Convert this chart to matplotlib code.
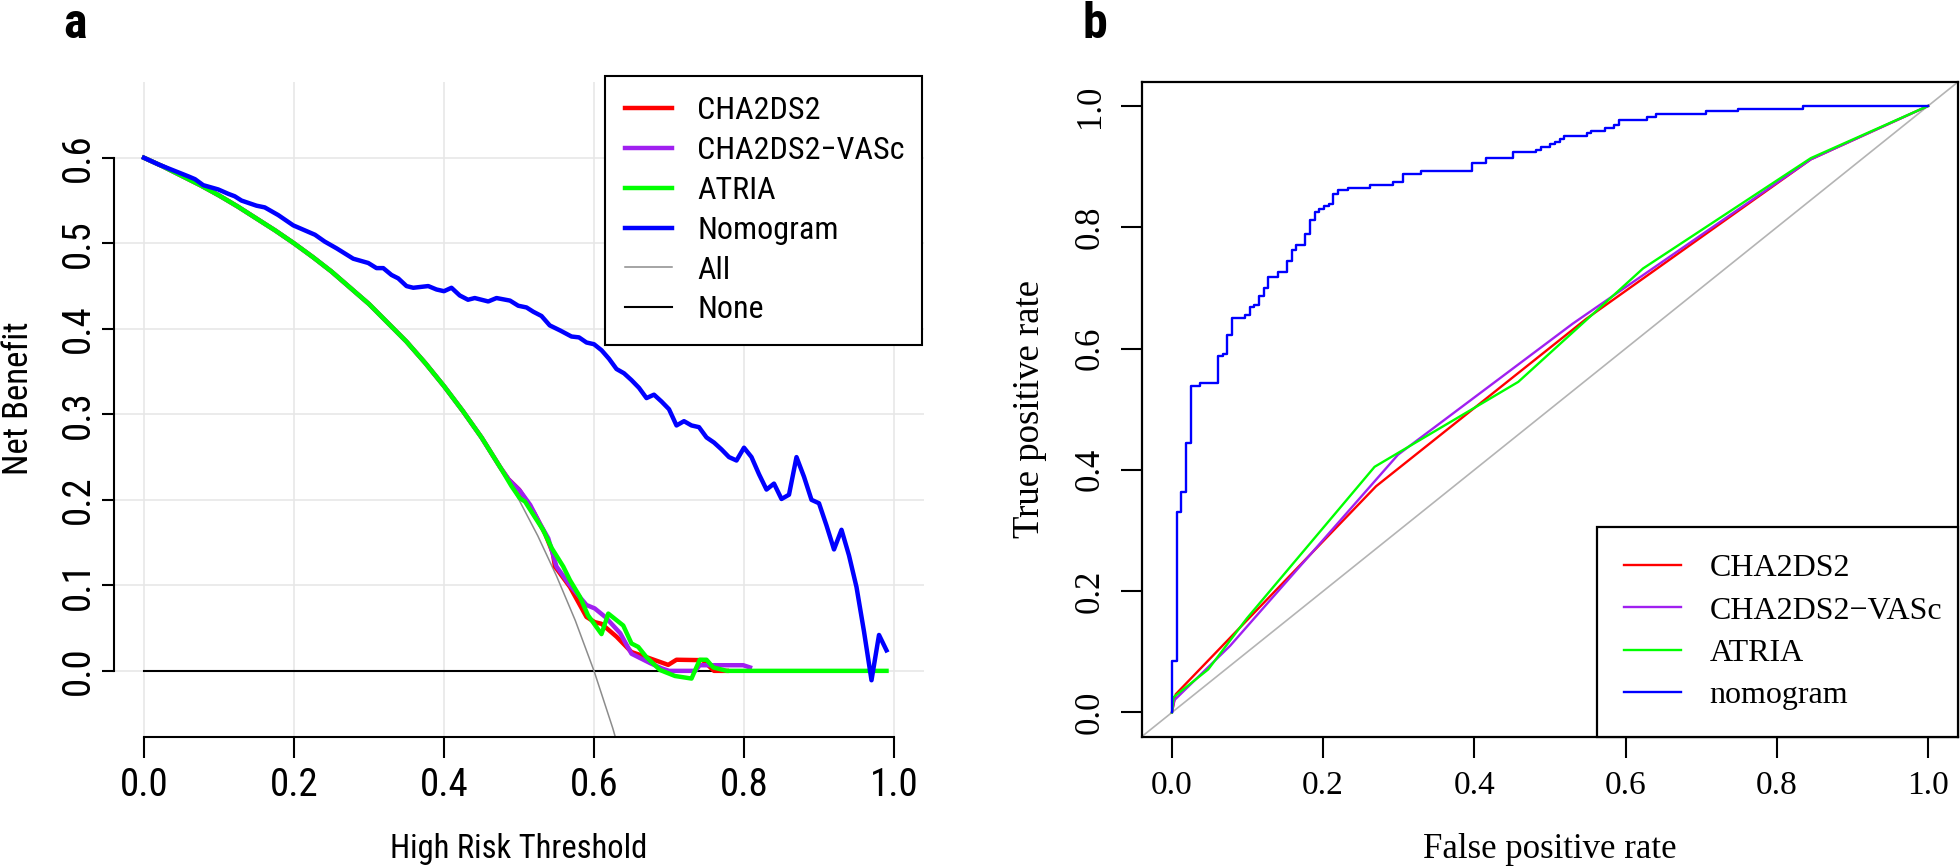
import numpy as np
import matplotlib
matplotlib.use("Agg")
import matplotlib.pyplot as plt

SANS = ["Roboto Condensed", "PT Sans Narrow", "Archivo Narrow", "Asap Condensed", "DejaVu Sans"]
SERIF = ["Liberation Serif", "DejaVu Serif"]

# ---------------- panel a: decision curves ----------------
# "All" (treat everyone) net benefit
all_thr = [0.0, 0.025, 0.05, 0.075, 0.1, 0.125, 0.15, 0.175, 0.2, 0.225,
           0.25, 0.275, 0.3, 0.325, 0.35, 0.375, 0.4, 0.425, 0.45, 0.475,
           0.5, 0.525, 0.55, 0.575, 0.6, 0.625, 0.65]
all_nb = [0.600, 0.590, 0.579, 0.568, 0.556, 0.543, 0.529, 0.515, 0.500, 0.484,
          0.467, 0.448, 0.429, 0.407, 0.385, 0.360, 0.333, 0.304, 0.273, 0.238,
          0.200, 0.158, 0.111, 0.059, 0.000, -0.067, -0.143]

# the three scores follow the "All" curve up to ~0.475, then split
shared_n = 20

cha2ds2_thr = [0.486, 0.50, 0.52, 0.535, 0.545, 0.548, 0.568, 0.59, 0.601, 0.61,
               0.63, 0.65, 0.67, 0.699, 0.71, 0.745, 0.76, 0.777]
cha2ds2_nb = [0.224, 0.212, 0.185, 0.160, 0.138, 0.122, 0.098, 0.063, 0.057, 0.055,
              0.040, 0.022, 0.016, 0.007, 0.013, 0.0125, 0.0, 0.0]

vasc_thr = [0.486, 0.501, 0.515, 0.528, 0.539, 0.55, 0.568, 0.59, 0.601, 0.615,
            0.635, 0.65, 0.675, 0.69, 0.70, 0.735, 0.741, 0.799, 0.808]
vasc_nb = [0.224, 0.211, 0.194, 0.172, 0.155, 0.122, 0.100, 0.077, 0.073, 0.063,
           0.044, 0.020, 0.009, 0.003, 0.0, 0.0, 0.0066, 0.0066, 0.004]

atria_thr = [0.49, 0.501, 0.508, 0.521, 0.532, 0.544, 0.559, 0.568, 0.581, 0.592,
             0.61, 0.619, 0.639, 0.65, 0.659, 0.67, 0.688, 0.708, 0.73, 0.741,
             0.75, 0.759, 0.777, 0.99]
atria_nb = [0.216, 0.202, 0.198, 0.180, 0.165, 0.143, 0.122, 0.106, 0.087, 0.065,
            0.043, 0.067, 0.053, 0.032, 0.028, 0.016, 0.001, -0.006, -0.009, 0.013,
            0.013, 0.004, 0.0, 0.0]

nomo_thr = [0.0, 0.02, 0.04, 0.06, 0.068, 0.079, 0.099, 0.112, 0.121, 0.13,
            0.15, 0.161, 0.179, 0.199, 0.228, 0.241, 0.257, 0.279, 0.299, 0.31,
            0.319, 0.33, 0.339, 0.35, 0.359, 0.379, 0.39, 0.40, 0.41, 0.421,
            0.432, 0.441, 0.459, 0.47, 0.488, 0.499, 0.51, 0.519, 0.53, 0.541,
            0.555, 0.57, 0.58, 0.59, 0.60, 0.61, 0.62, 0.63, 0.64, 0.65,
            0.66, 0.67, 0.68, 0.69, 0.70, 0.71, 0.72, 0.73, 0.74, 0.75,
            0.76, 0.77, 0.78, 0.79, 0.80, 0.81, 0.82, 0.83, 0.84, 0.85,
            0.86, 0.87, 0.88, 0.89, 0.90, 0.91, 0.92, 0.93, 0.94, 0.95,
            0.96, 0.97, 0.98, 0.99]
nomo_nb = [0.600, 0.592, 0.585, 0.578, 0.575, 0.568, 0.563, 0.558, 0.555, 0.550,
           0.544, 0.542, 0.533, 0.521, 0.510, 0.502, 0.494, 0.482, 0.477, 0.471,
           0.471, 0.463, 0.459, 0.450, 0.448, 0.450, 0.446, 0.444, 0.448, 0.439,
           0.434, 0.436, 0.432, 0.436, 0.433, 0.427, 0.425, 0.420, 0.415, 0.404,
           0.398, 0.391, 0.390, 0.384, 0.382, 0.375, 0.365, 0.353, 0.348, 0.340,
           0.331, 0.319, 0.323, 0.315, 0.306, 0.287, 0.292, 0.287, 0.285, 0.273,
           0.267, 0.259, 0.250, 0.246, 0.261, 0.250, 0.230, 0.212, 0.219, 0.201,
           0.206, 0.250, 0.227, 0.200, 0.196, 0.170, 0.142, 0.165, 0.135, 0.098,
           0.046, -0.011, 0.042, 0.024]

# ---------------- panel b: ROC curves ----------------
roc_cha2ds2_fpr = [0.0, 0.005, 0.27, 0.548, 0.845, 1.0]
roc_cha2ds2_tpr = [0.0, 0.030, 0.373, 0.649, 0.912, 1.0]

roc_vasc_fpr = [0.0, 0.003, 0.077, 0.299, 0.530, 0.845, 1.0]
roc_vasc_tpr = [0.0, 0.020, 0.110, 0.425, 0.641, 0.912, 1.0]

roc_atria_fpr = [0.0, 0.002, 0.048, 0.099, 0.268, 0.458, 0.623, 0.845, 1.0]
roc_atria_tpr = [0.0, 0.025, 0.071, 0.155, 0.405, 0.545, 0.732, 0.914, 1.0]

roc_nomo_fpr = [0.0, 0.0, 0.0066, 0.0119, 0.0185, 0.0246, 0.0365, 0.0607, 0.0673, 0.073,
                0.0792, 0.0968, 0.1034, 0.109, 0.1157, 0.1219, 0.1276, 0.14, 0.1527, 0.1584,
                0.1641, 0.1764, 0.183, 0.1892, 0.1949, 0.2015, 0.2072, 0.2134, 0.22, 0.2323,
                0.2618, 0.2926, 0.305, 0.33, 0.3969, 0.4149, 0.451, 0.4818, 0.4884, 0.5003,
                0.506, 0.5126, 0.5183, 0.5487, 0.5545, 0.5733, 0.5852, 0.5909, 0.6284, 0.6403,
                0.7063, 0.7493, 0.8351, 1.0]
roc_nomo_tpr = [0.0, 0.0849, 0.331, 0.363, 0.444, 0.538, 0.5425, 0.5874, 0.5918, 0.623,
                0.6504, 0.6548, 0.668, 0.6724, 0.686, 0.6997, 0.7173, 0.726, 0.744, 0.762,
                0.771, 0.789, 0.8115, 0.8246, 0.830, 0.8345, 0.839, 0.8553, 0.8608, 0.8652,
                0.8696, 0.874, 0.8877, 0.8926, 0.9063, 0.9145, 0.9239, 0.928, 0.9326, 0.937,
                0.9413, 0.9463, 0.9507, 0.9551, 0.9594, 0.9638, 0.9688, 0.9775, 0.982, 0.9868,
                0.9913, 0.9956, 1.0, 1.0]

RED, PURPLE, GREEN, BLUE = "#ff0000", "#a020f0", "#00ff00", "#0000ff"

fig = plt.figure(figsize=(19.6, 8.68), dpi=100)
W, H = 1960, 868

# ---- panel a ----
ax = fig.add_axes([114 / W, 1 - 736.7 / H, 810 / W, 655 / H])
ax.set_xlim(-0.04, 1.04)
ax.set_ylim(-0.077, 0.689)
for v in np.arange(0, 1.01, 0.2):
    ax.axvline(v, color="#e6e6e6", lw=1.1, zorder=0)
for v in np.arange(0, 0.61, 0.1):
    ax.axhline(v, color="#e6e6e6", lw=1.1, zorder=0)

ax.plot([0, 0.99], [0, 0], color="black", lw=1.5, label="None", zorder=2)
ax.plot(all_thr, all_nb, color="#8c8c8c", lw=1.1, label="All", zorder=2)
for thr, nb, col, lab in [(cha2ds2_thr, cha2ds2_nb, RED, "CHA2DS2"),
                          (vasc_thr, vasc_nb, PURPLE, "CHA2DS2\u2212VASc"),
                          (atria_thr, atria_nb, GREEN, "ATRIA")]:
    x = all_thr[:shared_n] + thr
    y = all_nb[:shared_n] + nb
    ax.plot(x, y, color=col, lw=3.2, label=lab, zorder=3)
ax.plot(nomo_thr, nomo_nb, color=BLUE, lw=3.2, label="Nomogram", zorder=4)

ax.spines["top"].set_visible(False)
ax.spines["right"].set_visible(False)
ax.spines["left"].set_bounds(0, 0.6)
ax.spines["bottom"].set_bounds(0, 1)
for s in ("left", "bottom"):
    ax.spines[s].set_linewidth(1.5)
ax.set_xticks(np.arange(0, 1.01, 0.2))
ax.set_yticks(np.arange(0, 0.61, 0.1))
ax.set_xticklabels([f"{v:.1f}" for v in np.arange(0, 1.01, 0.2)])
ax.set_yticklabels([f"{v:.1f}" for v in np.arange(0, 0.61, 0.1)],
                   rotation=90, va="center")
ax.tick_params(direction="out", width=1.5, labelsize=28)
ax.tick_params(axis="x", length=15, pad=7)
ax.tick_params(axis="y", length=9, pad=3)
for t in ax.get_xticklabels() + ax.get_yticklabels():
    t.set_family(SANS)
ax.set_xlabel("High Risk Threshold", fontsize=23.5, family=SANS, va="center")
ax.set_ylabel("Net Benefit", fontsize=25, family=SANS, va="center")
ax.xaxis.set_label_coords(0.5, (736.7 - 849) / 655)
ax.yaxis.set_label_coords((19 - 114) / 810, (736.7 - 398) / 655)

h, l = ax.get_legend_handles_labels()
order = ["CHA2DS2", "CHA2DS2\u2212VASc", "ATRIA", "Nomogram", "All", "None"]
hd = dict(zip(l, h))
leg = ax.legend([hd[k] for k in order], order, loc="upper left",
                bbox_to_anchor=(605 / W, 1 - 339 / H, 317 / W, 263.3 / H),
                bbox_transform=fig.transFigure, mode="expand", borderaxespad=0,
                prop={"family": SANS, "size": 23}, handlelength=1.47,
                handletextpad=0.78, labelspacing=0.34, borderpad=0.64,
                fancybox=False, framealpha=1, edgecolor="black")
leg.get_frame().set_linewidth(1.5)
leg.set_zorder(10)

# ---- panel b ----
bx = fig.add_axes([1141.7 / W, 1 - 736.7 / H, 816.6 / W, 655 / H])
bx.set_xlim(-0.04, 1.04)
bx.set_ylim(-0.04, 1.04)
bx.axline((0, 0), (1, 1), color="#b4b4b4", lw=1.2, zorder=1)
bx.plot(roc_cha2ds2_fpr, roc_cha2ds2_tpr, color=RED, lw=1.7, label="CHA2DS2")
bx.plot(roc_vasc_fpr, roc_vasc_tpr, color=PURPLE, lw=1.7, label="CHA2DS2\u2212VASc")
bx.plot(roc_atria_fpr, roc_atria_tpr, color=GREEN, lw=1.7, label="ATRIA")
bx.plot(roc_nomo_fpr, roc_nomo_tpr, color=BLUE, lw=1.7, drawstyle="steps-post",
        label="nomogram")
for s in bx.spines.values():
    s.set_linewidth(1.6)
ticks = np.arange(0, 1.01, 0.2)
bx.set_xticks(ticks)
bx.set_yticks(ticks)
bx.set_xticklabels([f"{v:.1f}" for v in ticks])
bx.set_yticklabels([f"{v:.1f}" for v in ticks], rotation=90, va="center")
bx.tick_params(direction="out", length=15, width=1.5, labelsize=24, pad=9)
bx.tick_params(axis="y", labelsize=25, pad=10)
for t in bx.get_xticklabels() + bx.get_yticklabels():
    t.set_family(SERIF)
bx.set_xlabel("False positive rate", fontsize=25, family=SERIF, va="center")
bx.set_ylabel("True positive rate", fontsize=26.5, family=SERIF, va="center")
bx.xaxis.set_label_coords(0.5, (736.7 - 849) / 655)
bx.yaxis.set_label_coords((1030 - 1141.7) / 816.6, 0.5)
leg2 = bx.legend(loc="lower right",
                 bbox_to_anchor=(1596.7 / W, 1 - 736.7 / H, 361.6 / W, 206 / H),
                 bbox_transform=fig.transFigure, mode="expand", borderaxespad=0,
                 prop={"family": SERIF, "size": 23}, handlelength=1.81,
                 handletextpad=0.875, labelspacing=0.4, borderpad=0.84,
                 fancybox=False, framealpha=1, edgecolor="black")
leg2.get_frame().set_linewidth(1.6)

fig.text(75 / W, 1 - 24 / H, "a", fontsize=36, fontweight="bold", family=SANS,
         ha="center", va="center")
fig.text(1095 / W, 1 - 24 / H, "b", fontsize=36, fontweight="bold", family=SANS,
         ha="center", va="center")

fig.savefig("out.png", dpi=100, facecolor="white")
